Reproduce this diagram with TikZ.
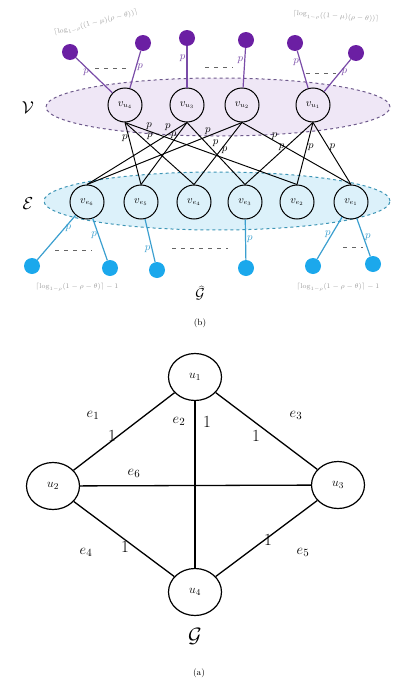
\documentclass[tikz,border=0pt]{standalone}
\usetikzlibrary{shapes.geometric}
\definecolor{vpurple}{HTML}{6B1FA3}
\definecolor{vline}{HTML}{7A4CA8}
\definecolor{vfill}{HTML}{EFE7F6}
\definecolor{vborder}{HTML}{6E5A8C}
\definecolor{ecyan}{HTML}{1BA8EC}
\definecolor{eline}{HTML}{3B9FCF}
\definecolor{efill}{HTML}{DCF1FA}
\definecolor{eborder}{HTML}{3D95B5}
\definecolor{note}{HTML}{9A9A9A}
\begin{document}
\begin{tikzpicture}[x=1pt,y=-1pt,
  vnode/.style={circle,draw,line width=1pt,minimum size=34pt,inner sep=0pt,font=\fontsize{10.5}{10.5}\selectfont},
  unode/.style={ellipse,draw,line width=1.2pt,minimum width=53pt,minimum height=47pt,inner sep=0pt,font=\fontsize{13}{13}\selectfont},
  pdot/.style={circle,fill=vpurple,minimum size=16pt,inner sep=0pt},
  cdot/.style={circle,fill=ecyan,minimum size=16pt,inner sep=0pt},
  plab/.style={font=\fontsize{11}{11}\selectfont,inner sep=1pt},
  vedge/.style={vline,line width=1.2pt},
  cedge/.style={eline,line width=1.2pt},
  bedge/.style={black,line width=0.95pt},
  gedge/.style={black,line width=1.3pt},
  elab/.style={font=\fontsize{15}{15}\selectfont,inner sep=0pt},
  wlab/.style={font=\fontsize{17}{17}\selectfont,inner sep=0pt},
  notelab/.style={note,font=\fontsize{7.5}{7.5}\selectfont,inner sep=0pt},
  gaps/.style={dash pattern=on 4pt off 5pt,line width=0.6pt,black!60},
  caplab/.style={font=\fontsize{9}{9}\selectfont,inner sep=0pt}
]
\useasboundingbox (0,0) rectangle (398,680);

% ---------- (b): the two vertex sets ----------
\draw[vborder,dashed,line width=1pt,fill=vfill] (218,107) ellipse [x radius=172pt, y radius=29pt];
\draw[eborder,dashed,line width=1pt,fill=efill] (217,201) ellipse [x radius=173pt, y radius=29pt];
\node[font=\fontsize{18}{18}\selectfont] (Vlab) at (28,108) {$\mathcal{V}$};
\node[font=\fontsize{18}{18}\selectfont] (Elab) at (28,204) {$\mathcal{E}$};

% vertex copies
\node[vnode] (vu4) at (125,105) {$v_{u_4}$};
\node[vnode] (vu3) at (187,105) {$v_{u_3}$};
\node[vnode] (vu2) at (242,105) {$v_{u_2}$};
\node[vnode] (vu1) at (313,105) {$v_{u_1}$};

% edge copies
\node[vnode] (ve6) at (87,202) {$v_{e_6}$};
\node[vnode] (ve5) at (141,202) {$v_{e_5}$};
\node[vnode] (ve4) at (194,202) {$v_{e_4}$};
\node[vnode] (ve3) at (245,202) {$v_{e_3}$};
\node[vnode] (ve2) at (297,202) {$v_{e_2}$};
\node[vnode] (ve1) at (351,202) {$v_{e_1}$};

% incidence edges
\draw[bedge] (vu4.south) -- node[plab,pos=0.14,above] {$p$} (ve2.north);
\draw[bedge] (vu4.south) -- node[plab,pos=0.3,above right] {$p$} (ve4.north);
\draw[bedge] (vu4.south) -- node[plab,pos=0.25,left] {$p$} (ve5.north);
\draw[bedge] (vu3.south) -- node[plab,pos=0.42,above right] {$p$} (ve3.north);
\draw[bedge] (vu3.south) -- node[plab,pos=0.2,left] {$p$} (ve5.north);
\draw[bedge] (vu3.south) -- node[plab,pos=0.15,above left] {$p$} (ve6.north);
\draw[bedge] (vu2.south) -- node[plab,pos=0.3,above] {$p$} (ve1.north);
\draw[bedge] (vu2.south) -- node[plab,pos=0.45,right] {$p$} (ve4.north);
\draw[bedge] (vu2.south) -- node[plab,pos=0.22,above] {$p$} (ve6.north);
\draw[bedge] (vu1.south) -- node[plab,pos=0.4,right] {$p$} (ve1.north);
\draw[bedge] (vu1.south) -- node[plab,pos=0.4,right] {$p$} (ve2.north);
\draw[bedge] (vu1.south) -- node[plab,pos=0.4,left] {$p$} (ve3.north);

% purple pendant vertices
\node[pdot] (a1) at (70,52) {};
\node[pdot] (a2) at (143,43) {};
\node[pdot] (a3) at (187,38) {};
\node[pdot] (a4) at (246,40) {};
\node[pdot] (a5) at (295,43) {};
\node[pdot] (a6) at (356,53) {};
\draw[vedge] (a1) -- node[plab,vline,pos=0.4,left] {$p$} (vu4);
\draw[vedge] (a2) -- node[plab,vline,pos=0.45,right] {$p$} (vu4);
\draw[vedge] (a3) -- node[plab,vline,pos=0.3,left] {$p$} (vu3);
\draw[vedge] (a4) -- node[plab,vline,pos=0.3,left] {$p$} (vu2);
\draw[vedge] (a5) -- node[plab,vline,pos=0.3,left] {$p$} (vu1);
\draw[vedge] (a6) -- node[plab,vline,pos=0.4,right] {$p$} (vu1);
\draw[gaps] (95,68) -- (130,68);
\draw[gaps] (205,67) -- (233,67);
\draw[gaps] (306,73) -- (336,73);

% cyan pendant vertices
\node[cdot] (b1) at (32,266) {};
\node[cdot] (b2) at (110,268) {};
\node[cdot] (b3) at (157,270) {};
\node[cdot] (b4) at (246,268) {};
\node[cdot] (b5) at (313,266) {};
\node[cdot] (b6) at (373,264) {};
\draw[cedge] (b1) -- node[plab,eline,pos=0.7,right] {$p$} (ve6);
\draw[cedge] (b2) -- node[plab,eline,pos=0.6,left] {$p$} (ve6);
\draw[cedge] (b3) -- node[plab,eline,pos=0.3,left] {$p$} (ve5);
\draw[cedge] (b4) -- node[plab,eline,pos=0.5,right] {$p$} (ve3);
\draw[cedge] (b5) -- node[plab,eline,pos=0.6,left] {$p$} (ve1);
\draw[cedge] (b6) -- node[plab,eline,pos=0.5,right] {$p$} (ve1);
\draw[gaps] (55,250) -- (92,250);
\draw[gaps] (172,248) -- (228,248);
\draw[gaps] (343,247) -- (363,247);

% counts of pendant vertices
\node[notelab,rotate=14] (ntl) at (96,23) {$\lceil\log_{1-\rho}((1-\mu)(\rho-\theta))\rceil$};
\node[notelab,rotate=-4] (ntr) at (336,17) {$\lceil\log_{1-\rho}((1-\mu)(\rho-\theta))\rceil$};
\node[notelab] (nbl) at (77,287) {$\lceil\log_{1-\rho}(1-\rho-\theta)\rceil-1$};
\node[notelab] (nbr) at (338,287) {$\lceil\log_{1-\rho}(1-\rho-\theta)\rceil-1$};
\node[font=\fontsize{15}{15}\selectfont] (Gh) at (200,293) {$\widehat{\mathcal{G}}$};
\node[caplab] (capb) at (200,323) {(b)};

% ---------- (a): the graph G ----------
\node[unode] (u1) at (195,377) {$u_1$};
\node[unode] (u2) at (53,486) {$u_2$};
\node[unode] (u3) at (338,485) {$u_3$};
\node[unode] (u4) at (195,592) {$u_4$};

\draw[gedge] (u1) -- (u2);
\draw[gedge] (u1) -- (u3);
\draw[gedge] (u1.south) -- (u4.north);
\draw[gedge] (u2) -- (u4);
\draw[gedge] (u3) -- (u4);
\draw[gedge] (u2) -- (u3);

\node[elab] (le1) at (93,415) {$e_1$};
\node[wlab] (w1) at (112,436) {1};
\node[elab] (le2) at (179,421) {$e_2$};
\node[wlab] (w2) at (207,422) {1};
\node[elab] (le3) at (296,415) {$e_3$};
\node[wlab] (w3) at (256,436) {1};
\node[elab] (le6) at (134,473) {$e_6$};
\node[elab] (le4) at (86,552) {$e_4$};
\node[wlab] (w4) at (125,547) {1};
\node[wlab] (w5) at (268,540) {1};
\node[elab] (le5) at (303,552) {$e_5$};

\node[font=\fontsize{21}{21}\selectfont] (G) at (195,636) {$\mathcal{G}$};
\node[caplab] (capa) at (199,673) {(a)};
\end{tikzpicture}
\end{document}
